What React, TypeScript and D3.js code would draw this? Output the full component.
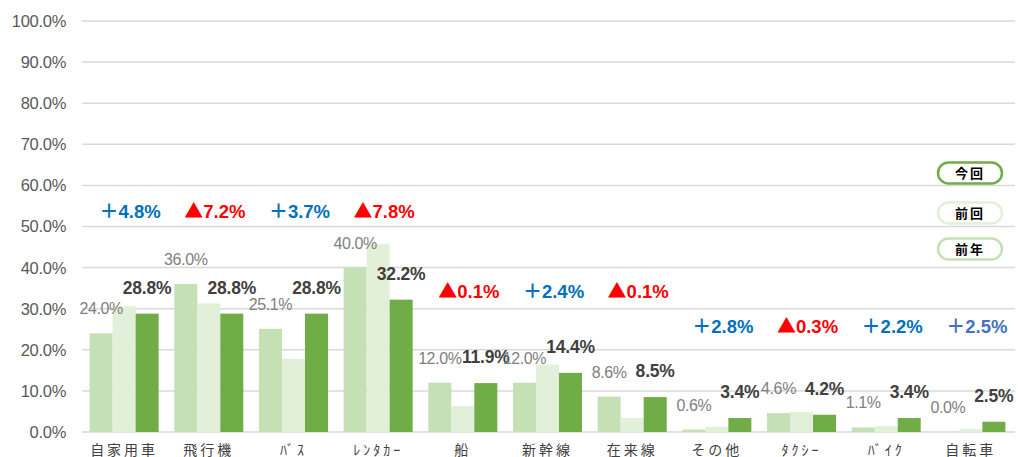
import React from 'react';
import * as d3 from 'd3';

// categories and series
const categories = ['自家用車', '飛行機', 'ﾊﾞｽ', 'ﾚﾝﾀｶｰ', '船', '新幹線', '在来線', 'その他', 'ﾀｸｼｰ', 'ﾊﾞｲｸ', '自転車'];
const seriesNames = ['前年', '前回', '今回'];
const prevYear = [24.0, 36.0, 25.1, 40.0, 12.0, 12.0, 8.6, 0.6, 4.6, 1.1, 0.0];
const prevTime = [30.6, 31.3, 17.8, 45.7, 6.3, 16.4, 3.4, 1.3, 4.9, 1.4, 0.7];
const current = [28.8, 28.8, 28.8, 32.2, 11.9, 14.4, 8.5, 3.4, 4.2, 3.4, 2.5];
const diffLabels = ['＋4.8%', '▲7.2%', '＋3.7%', '▲7.8%', '▲0.1%', '＋2.4%', '▲0.1%', '＋2.8%', '▲0.3%', '＋2.2%', '＋2.5%'];
const yTicks = [0, 10, 20, 30, 40, 50, 60, 70, 80, 90, 100];
const legendItems = ['今回', '前回', '前年'];

const colors: Record<string, string> = { '前年': '#c5e0b4', '前回': '#e2f0d9', '今回': '#70ad47' };

const W = 1018;
const H = 457;
const NUM_FONT = "'Liberation Sans', Arial, sans-serif";
const JP_FONT = "'Noto Sans CJK JP', sans-serif";

export default function App() {
  const x = d3.scaleBand<string>().domain(categories).range([82, 1013]).paddingInner(0.185).paddingOuter(0.09);
  const xs = d3.scaleBand<string>().domain(seriesNames).range([0, x.bandwidth()]).padding(0);
  const y = d3.scaleLinear().domain([0, 100]).range([432, 21]);

  const values: Record<string, number[]> = { '前年': prevYear, '前回': prevTime, '今回': current };
  // level (in %) where the difference labels sit, per category group
  const diffLevel = (i: number) => (i < 4 ? 52 : i < 7 ? 32.6 : 24.1);
  const diffColor = (s: string, i: number) =>
    s.startsWith('▲') ? '#ff0000' : i === categories.length - 1 ? '#4472c4' : '#0070c0';

  return (
    <svg width={W} height={H} style={{ position: 'absolute', left: 0, top: 0, display: 'block' }}>
      <rect width={W} height={H} fill="#fff" />
      {/* grid + y axis */}
      {yTicks.map(t => (
        <g key={t}>
          <line x1={82} x2={1015} y1={y(t)} y2={y(t)} stroke="#d9d9d9" strokeWidth={1.5} />
          <text x={66} y={y(t)} dy="0.36em" textAnchor="end" fontFamily={NUM_FONT} fontSize={16.5} letterSpacing={-0.3} fill="#595959">
            {t.toFixed(1)}%
          </text>
        </g>
      ))}
      {/* bars */}
      {categories.map((c, i) => (
        <g key={c} transform={`translate(${x(c)},0)`}>
          {seriesNames.map(s => (
            <rect key={s} x={xs(s)} width={xs.bandwidth()} y={y(values[s][i])} height={y(0) - y(values[s][i])} fill={colors[s]} />
          ))}
        </g>
      ))}
      {/* value labels */}
      {categories.map((c, i) => (
        <g key={c + 'l'}>
          <text x={(x(c) || 0) + (xs('前年') || 0) + xs.bandwidth() / 2} y={y(prevYear[i]) - 19}
            textAnchor="middle" fontFamily={NUM_FONT} fontSize={16} letterSpacing={-0.4} fill="#808080">
            {prevYear[i].toFixed(1)}%
          </text>
          <text x={(x(c) || 0) + (xs('今回') || 0) + xs.bandwidth() / 2} y={y(current[i]) - 20}
            textAnchor="middle" fontFamily={NUM_FONT} fontSize={17.5} fontWeight="bold" letterSpacing={-0.2} fill="#404040">
            {current[i].toFixed(1)}%
          </text>
        </g>
      ))}
      {/* difference labels */}
      {categories.map((c, i) => (
        <text key={c + 'd'} x={(x(c) || 0) + x.bandwidth() / 2 + 6} y={y(diffLevel(i))}
          textAnchor="middle" fontFamily={NUM_FONT} fontSize={18.5} fontWeight="bold" fill={diffColor(diffLabels[i], i)}>
          <tspan fontFamily={JP_FONT} fontSize={19}>{diffLabels[i].slice(0, 1)}</tspan>
          <tspan>{diffLabels[i].slice(1)}</tspan>
        </text>
      ))}
      {/* category labels */}
      {categories.map(c => (
        <text key={c + 'c'} x={(x(c) || 0) + x.bandwidth() / 2} y={455}
          textAnchor="middle" fontFamily={JP_FONT} fontSize={14} letterSpacing={3} fill="#404040">
          {c}
        </text>
      ))}
      {/* legend */}
      {legendItems.map((s, i) => {
        const cy = [173, 213, 249][i];
        return (
          <g key={s}>
            <rect x={938} y={cy - 10.5} width={64} height={21} rx={10.5} fill="#fff" stroke={colors[s]} strokeWidth={2.5} />
            <text x={970} y={cy} dy="0.35em" textAnchor="middle" fontFamily={JP_FONT} fontSize={13} fontWeight="bold" letterSpacing={2} fill="#000">
              {s}
            </text>
          </g>
        );
      })}
    </svg>
  );
}
